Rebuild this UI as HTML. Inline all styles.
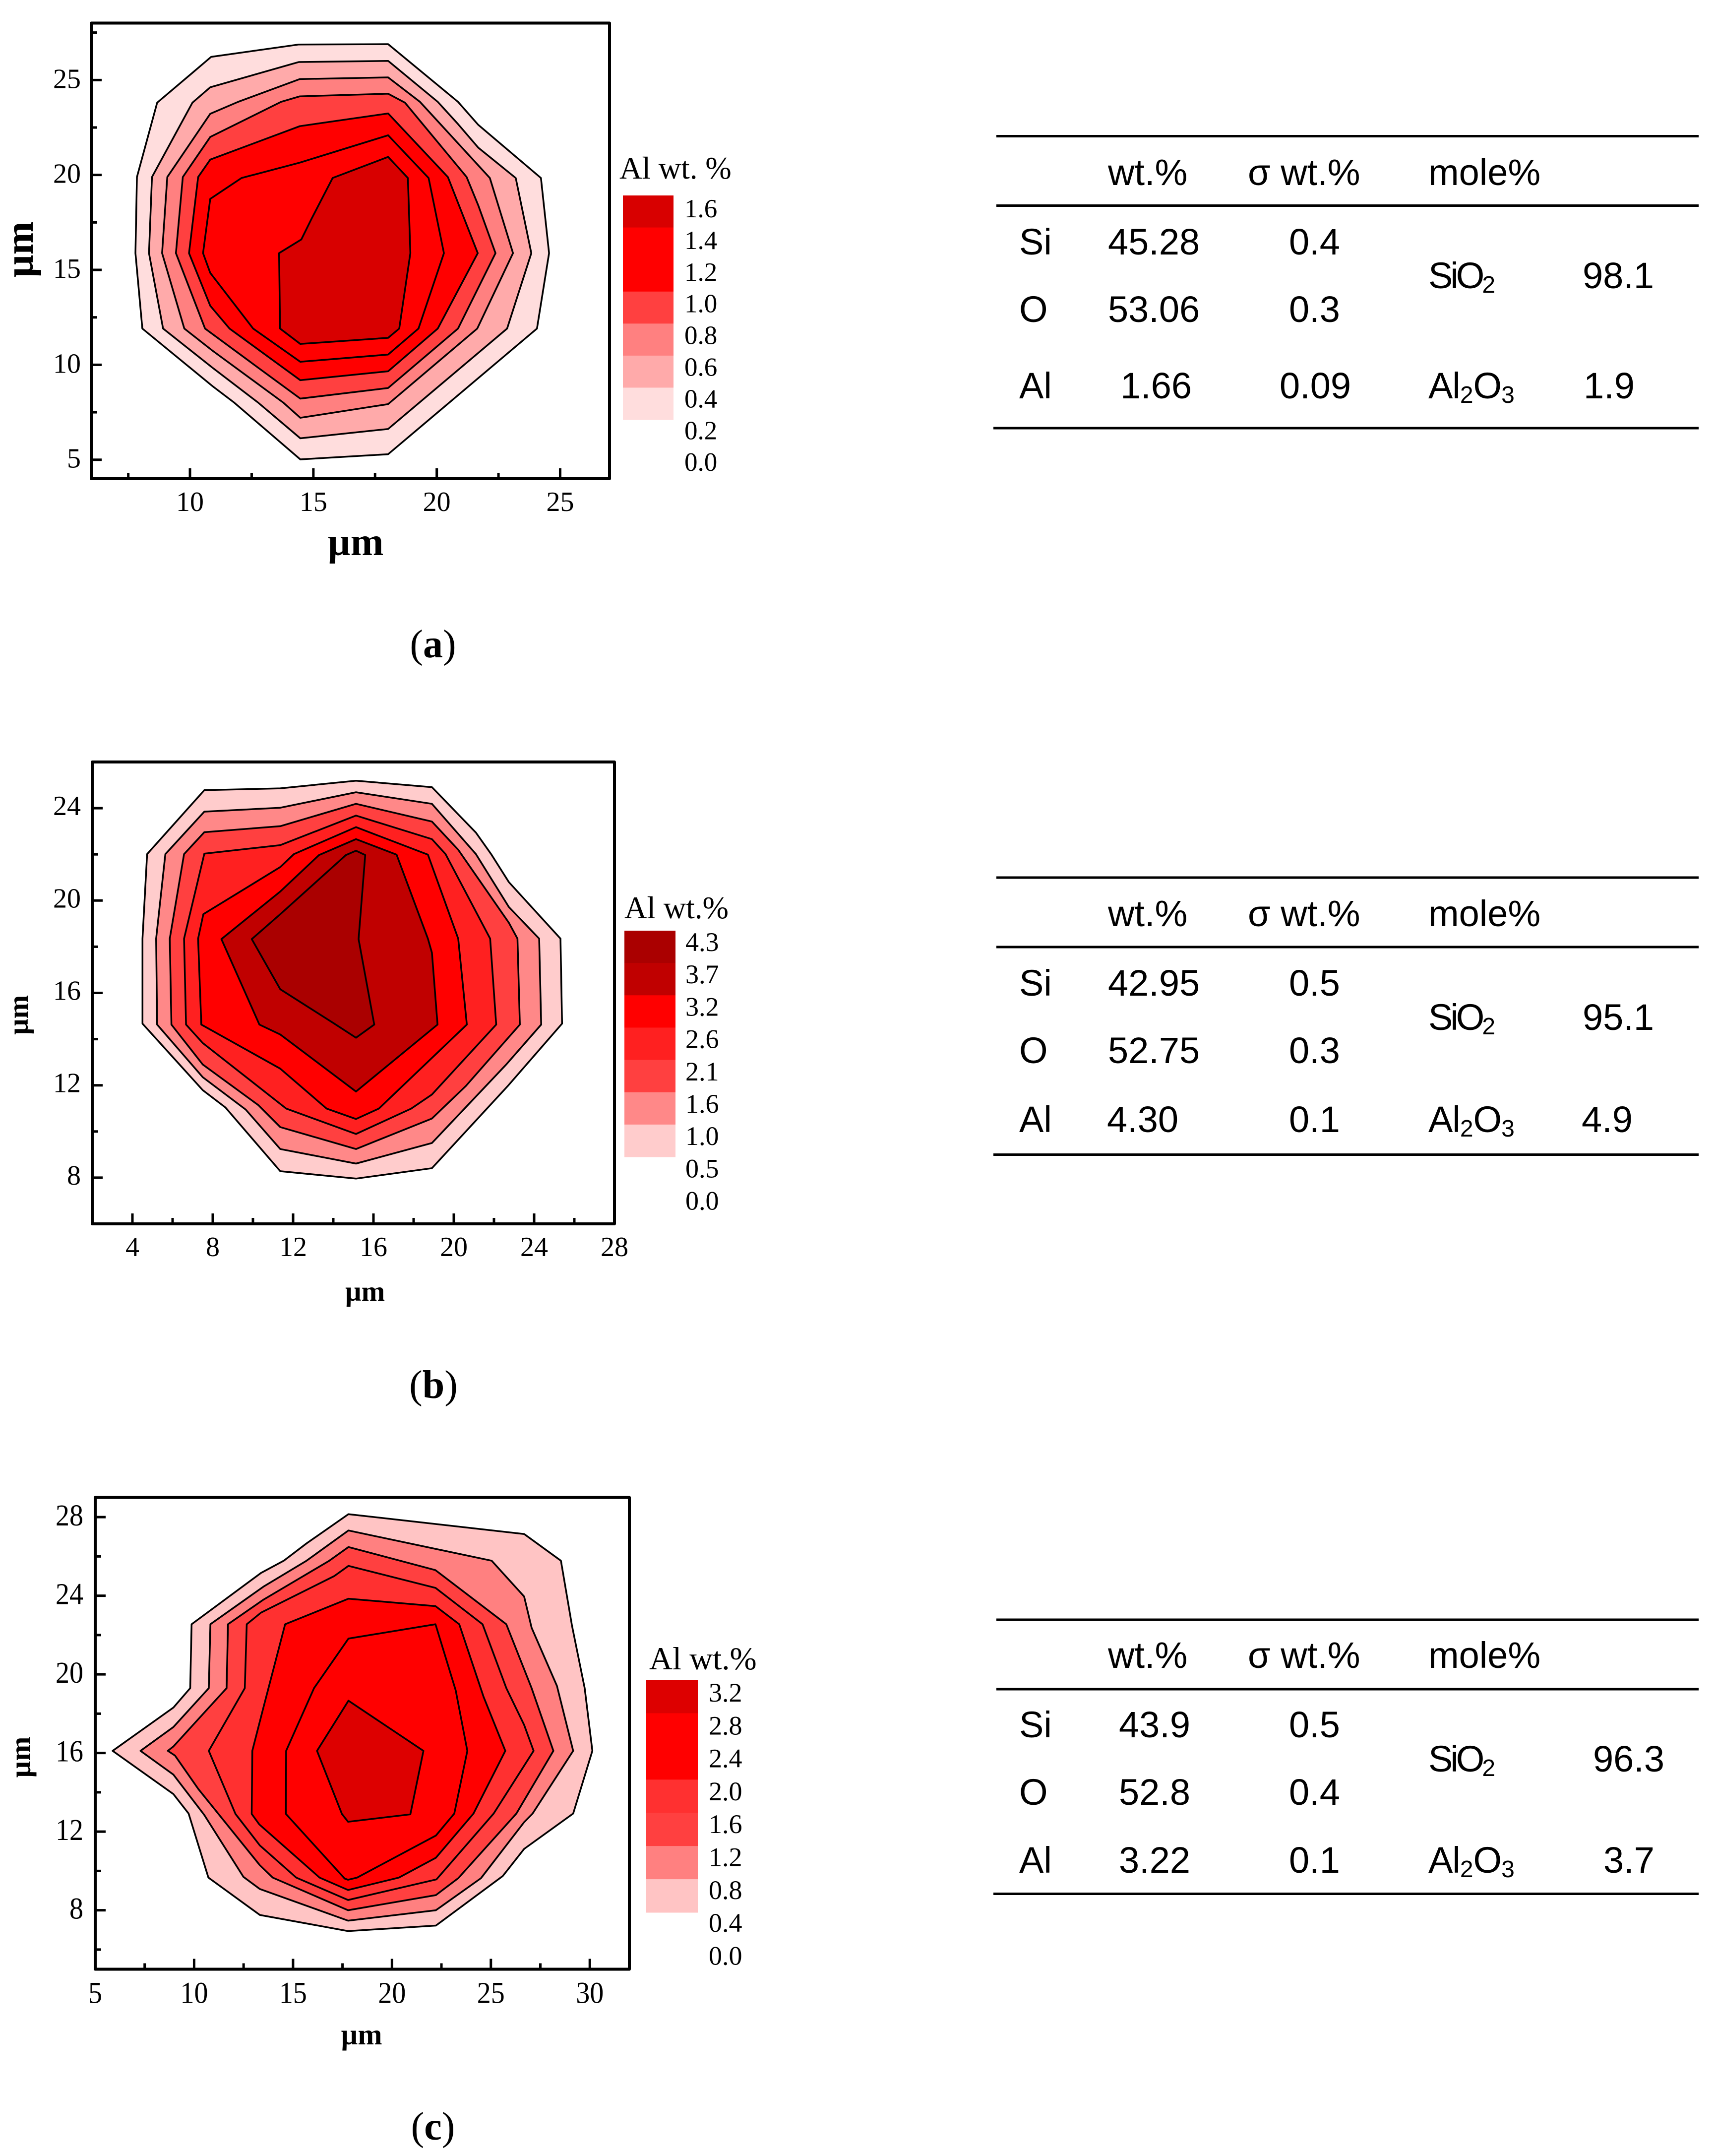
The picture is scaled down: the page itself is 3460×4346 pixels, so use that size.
<!DOCTYPE html>
<html lang="en">
<head>
<meta charset="utf-8">
<title>Al wt.% contour maps and composition tables</title>
<style>
html,body{margin:0;padding:0;background:#fff;}
svg{display:block;}
.t{font-family:"Liberation Sans",sans-serif;font-size:74px;fill:#000;transform:translate(-3px,0);}
.tb .t{transform:translate(-3px,-2px);}
.cap{font-family:"Liberation Serif",serif;font-size:80px;fill:#000;text-anchor:middle;}
.cap tspan{font-weight:bold;}
.s{font-size:48px;}
.sio{letter-spacing:-5px;}
.alo{letter-spacing:-1px;}
.r{stroke:#000;stroke-width:5px;}
</style>
</head>
<body>
<svg id="fig" xmlns="http://www.w3.org/2000/svg" width="3460" height="4346" viewBox="0 0 3460 4346">
<rect x="0" y="0" width="3460" height="4346" fill="#fff"/>

<g>
<line class="r" x1="2009" x2="3425" y1="274.5" y2="274.5"/>
<line class="r" x1="2009" x2="3425" y1="414.5" y2="414.5"/>
<line class="r" x1="2003" x2="3425" y1="863" y2="863"/>
<text class="t" x="2237" y="373">wt.%</text>
<text class="t" x="2519" y="373">σ wt.%</text>
<text class="t" x="2883" y="373">mole%</text>
<text class="t" x="2058" y="513">Si</text>
<text class="t" x="2237" y="513">45.28</text>
<text class="t" x="2602" y="513">0.4</text>
<text class="t" x="2058" y="649">O</text>
<text class="t" x="2237" y="649">53.06</text>
<text class="t" x="2602" y="649">0.3</text>
<text class="t" x="2058" y="803">Al</text>
<text class="t" x="2262" y="803">1.66</text>
<text class="t" x="2583" y="803">0.09</text>
<text class="t" x="2883" y="581"><tspan class="sio">SiO</tspan><tspan class="s" dy="9">2</tspan></text>
<text class="t" x="3194" y="581">98.1</text>
<text class="t" x="2883" y="803"><tspan class="alo">Al</tspan><tspan class="s" dy="9">2</tspan><tspan class="alo" dy="-9">O</tspan><tspan class="s" dy="9">3</tspan></text>
<text class="t" x="3196" y="803">1.9</text>
</g>

<g class="tb">
<line class="r" x1="2009" x2="3425" y1="1769" y2="1769"/>
<line class="r" x1="2009" x2="3425" y1="1909" y2="1909"/>
<line class="r" x1="2003" x2="3425" y1="2327.5" y2="2327.5"/>
<text class="t" x="2237" y="1869">wt.%</text>
<text class="t" x="2519" y="1869">σ wt.%</text>
<text class="t" x="2883" y="1869">mole%</text>
<text class="t" x="2058" y="2009">Si</text>
<text class="t" x="2237" y="2009">42.95</text>
<text class="t" x="2602" y="2009">0.5</text>
<text class="t" x="2058" y="2145">O</text>
<text class="t" x="2237" y="2145">52.75</text>
<text class="t" x="2602" y="2145">0.3</text>
<text class="t" x="2058" y="2284">Al</text>
<text class="t" x="2235" y="2284">4.30</text>
<text class="t" x="2602" y="2284">0.1</text>
<text class="t" x="2883" y="2078"><tspan class="sio">SiO</tspan><tspan class="s" dy="9">2</tspan></text>
<text class="t" x="3194" y="2078">95.1</text>
<text class="t" x="2883" y="2284"><tspan class="alo">Al</tspan><tspan class="s" dy="9">2</tspan><tspan class="alo" dy="-9">O</tspan><tspan class="s" dy="9">3</tspan></text>
<text class="t" x="3192" y="2284">4.9</text>
</g>

<g class="tb">
<line class="r" x1="2009" x2="3425" y1="3265" y2="3265"/>
<line class="r" x1="2009" x2="3425" y1="3405" y2="3405"/>
<line class="r" x1="2003" x2="3425" y1="3817.5" y2="3817.5"/>
<text class="t" x="2237" y="3364">wt.%</text>
<text class="t" x="2519" y="3364">σ wt.%</text>
<text class="t" x="2883" y="3364">mole%</text>
<text class="t" x="2058" y="3504">Si</text>
<text class="t" x="2259" y="3504">43.9</text>
<text class="t" x="2602" y="3504">0.5</text>
<text class="t" x="2058" y="3640">O</text>
<text class="t" x="2259" y="3640">52.8</text>
<text class="t" x="2602" y="3640">0.4</text>
<text class="t" x="2058" y="3777">Al</text>
<text class="t" x="2259" y="3777">3.22</text>
<text class="t" x="2602" y="3777">0.1</text>
<text class="t" x="2883" y="3573"><tspan class="sio">SiO</tspan><tspan class="s" dy="9">2</tspan></text>
<text class="t" x="3215" y="3573">96.3</text>
<text class="t" x="2883" y="3777"><tspan class="alo">Al</tspan><tspan class="s" dy="9">2</tspan><tspan class="alo" dy="-9">O</tspan><tspan class="s" dy="9">3</tspan></text>
<text class="t" x="3236" y="3777">3.7</text>
</g>

<text class="cap" x="873" y="1325">(<tspan>a</tspan>)</text>
<text class="cap" x="874" y="2818">(<tspan>b</tspan>)</text>
<text class="cap" x="873" y="4313">(<tspan>c</tspan>)</text>
</svg>

<script>
// Panel (a): contour outlines in micrometres, outermost to innermost
const aContour1 = [[10.86,26.22],[14.41,26.87],[18.03,26.89],[20.86,23.85],[21.68,22.64],[24.22,19.84],[24.55,15.88],[24.06,11.91],[18.03,5.29],[14.47,5.02],[11.8,8.0],[10.92,8.87],[8.07,11.91],[7.79,15.88],[7.85,19.89],[8.67,23.81],[10.0,25.27]];
const aContour2 = [[10.1,23.81],[10.82,24.62],[14.41,25.95],[18.03,26.01],[20.04,23.85],[20.86,22.68],[21.68,21.44],[23.2,19.84],[23.83,15.88],[22.85,11.91],[18.03,6.62],[14.47,6.13],[12.77,8.0],[10.92,9.84],[8.91,11.91],[8.34,15.88],[8.46,19.89]];
const aContour3 = [[9.08,19.89],[10.82,23.22],[11.95,23.85],[14.45,25.05],[18.03,25.14],[19.32,23.85],[22.15,19.84],[23.09,15.88],[21.64,11.91],[18.03,7.93],[14.47,7.21],[13.79,8.0],[10.92,10.74],[9.77,11.91],[8.87,15.88]];
const aContour4 = [[9.71,19.89],[10.82,22.0],[13.69,23.85],[14.45,24.14],[18.03,24.28],[18.71,23.81],[21.21,19.89],[21.68,18.4],[22.38,15.88],[20.86,11.91],[18.03,8.78],[14.47,8.22],[12.77,9.84],[10.61,11.91],[9.43,15.88]];
const aContour5 = [[10.33,19.89],[10.82,20.81],[14.45,22.57],[18.03,23.24],[20.45,19.89],[21.66,15.88],[20.04,11.91],[18.03,9.66],[14.47,9.19],[11.6,11.91],[10.82,13.11],[9.96,15.88]];
const aContour6 = [[10.82,18.74],[12.09,19.84],[14.45,20.65],[18.03,22.09],[19.67,19.84],[20.29,15.88],[19.26,11.91],[18.03,10.54],[14.47,10.16],[12.56,11.91],[10.82,14.84],[10.53,15.88]];
const aContour7 = [[15.78,19.84],[18.03,20.95],[18.83,19.84],[18.93,15.88],[18.48,11.91],[18.03,11.42],[14.47,11.1],[13.65,11.91],[13.61,15.88],[14.51,16.6],[14.92,17.68]];
const aFillColors = ["#FFDDDD","#FFAAAA","#FF8080","#FF4040","#FF0000","#FF0000","#D80000"];
const aLegendLabels = ["1.6","1.4","1.2","1.0","0.8","0.6","0.4","0.2","0.0"];
const aXTicks = [10,15,20,25];
const aXMinor = [7.5,12.5,17.5,22.5];
const aYTicks = [5,10,15,20,25];
const aYMinor = [7.5,12.5,17.5,22.5,27.5];

// Panel (b)
const bContour1 = [[7.58,24.78],[11.36,24.86],[15.13,25.19],[18.91,24.91],[21.1,22.94],[21.86,22.01],[22.74,20.8],[25.31,18.35],[25.39,14.67],[22.69,11.97],[18.91,8.41],[15.13,7.96],[11.36,8.28],[8.63,11.04],[7.5,11.79],[4.5,14.67],[4.5,18.35],[4.73,22.01]];
const bContour2 = [[7.58,23.85],[11.36,24.02],[15.13,24.69],[18.91,24.19],[21.1,22.01],[22.74,19.72],[24.25,18.35],[24.35,14.63],[22.61,12.9],[18.91,9.5],[15.13,8.61],[11.36,9.24],[9.64,10.95],[7.5,12.35],[5.23,14.63],[5.18,18.35],[5.64,22.01]];
const bContour3 = [[7.58,22.96],[11.36,23.22],[15.13,24.19],[18.91,23.42],[20.22,22.2],[22.74,19.04],[23.17,18.35],[23.29,14.63],[20.6,11.97],[18.91,10.56],[15.13,9.24],[11.36,10.19],[10.27,11.14],[7.5,12.9],[5.94,14.63],[5.86,18.35],[6.57,22.01]];
const bContour4 = [[7.58,22.03],[11.36,22.4],[15.13,23.68],[18.91,22.66],[19.59,22.01],[21.81,18.35],[22.11,14.63],[18.91,11.6],[17.88,10.99],[15.13,9.89],[11.66,10.99],[7.5,13.83],[6.67,14.63],[6.57,18.35]];
const bContour5 = [[7.53,19.41],[11.36,21.45],[12.04,22.01],[15.13,23.18],[18.71,21.99],[20.22,18.35],[20.65,14.63],[16.27,10.99],[15.13,10.54],[13.67,10.99],[11.36,12.72],[7.43,14.63],[7.27,18.35]];
const bContour6 = [[8.43,18.33],[11.36,20.39],[13.29,21.97],[15.13,22.66],[17.15,21.99],[18.71,18.35],[18.91,17.74],[19.19,14.63],[15.13,11.73],[11.36,14.2],[10.32,14.63]];
const bContour7 = [[9.94,18.33],[11.36,19.41],[14.63,21.97],[15.13,22.16],[15.59,21.97],[15.26,18.33],[16.04,14.63],[15.13,14.06],[14.05,14.67],[11.36,16.16]];
const bFillColors = ["#FFCCCC","#FF8888","#FF4040","#FF2020","#FF0000","#C00000","#AA0000"];
const bLegendLabels = ["4.3","3.7","3.2","2.6","2.1","1.6","1.0","0.5","0.0"];
const bXTicks = [4,8,12,16,20,24,28];
const bXMinor = [6,10,14,18,22,26];
const bYTicks = [8,12,16,20,24];
const bYMinor = [10,14,18,22];

// Panel (c)
const cContour1 = [[17.8,28.15],[26.68,27.14],[28.54,25.78],[29.1,22.48],[29.74,19.3],[30.13,16.11],[29.16,12.92],[26.68,11.12],[25.6,9.74],[22.22,7.22],[17.78,6.94],[13.32,7.76],[10.72,9.66],[9.72,12.92],[8.95,13.91],[5.88,16.11],[8.95,18.31],[9.8,19.3],[9.87,22.55],[13.38,25.16],[14.53,25.78],[15.68,26.66]];
const cContour2 = [[17.8,27.32],[25.04,25.78],[26.68,23.96],[27.06,22.37],[28.34,19.41],[29.16,16.11],[27.11,12.92],[26.68,12.48],[24.5,9.63],[22.22,8.0],[17.78,7.47],[13.32,9.08],[12.49,9.7],[10.51,12.85],[8.95,14.9],[7.29,16.11],[8.95,17.32],[10.74,19.3],[10.82,22.55],[13.5,24.46],[15.68,25.78]];
const cContour3 = [[17.8,26.48],[22.2,25.3],[25.78,22.55],[27.06,19.3],[28.16,16.11],[26.29,12.92],[23.35,9.63],[22.22,8.77],[17.78,8.0],[13.97,9.66],[13.32,10.29],[10.21,14.17],[9.03,15.87],[8.67,16.11],[8.95,16.33],[11.64,19.3],[11.71,22.55],[13.5,23.8],[16.83,25.78]];
const cContour4 = [[17.8,25.52],[22.2,24.4],[24.58,22.55],[25.78,19.3],[26.68,17.43],[27.16,16.11],[25.14,12.92],[22.25,9.57],[17.78,8.52],[15.16,9.66],[13.32,11.3],[12.09,12.9],[10.74,16.11],[12.56,19.3],[12.66,22.55],[13.38,23.14],[17.08,25.0]];
const cContour5 = [[17.8,23.85],[22.2,23.47],[23.4,22.55],[24.63,18.86],[25.73,16.11],[24.12,12.92],[22.22,10.67],[20.35,9.66],[17.78,9.03],[16.34,9.66],[13.29,12.37],[12.91,12.9],[12.94,16.11],[13.5,18.31],[14.6,22.55]];
const cContour6 = [[17.8,21.82],[22.2,22.55],[23.22,19.19],[23.81,16.11],[23.15,12.92],[22.22,11.8],[18.24,9.66],[17.78,9.55],[17.61,9.61],[14.64,12.9],[14.65,16.11],[16.06,19.3]];
const cContour7 = [[17.8,18.66],[21.59,16.11],[20.93,12.88],[17.78,12.5],[17.47,12.9],[16.21,16.11]];
const cFillColors = ["#FFC4C4","#FF8080","#FF4040","#FF3030","#FF0000","#FF0000","#DD0000"];
const cLegendLabels = ["3.2","2.8","2.4","2.0","1.6","1.2","0.8","0.4","0.0"];
const cXTicks = [5,10,15,20,25,30];
const cXMinor = [7.5,12.5,17.5,22.5,27.5];
const cYTicks = [8,12,16,20,24,28];
const cYMinor = [6,10,14,18,22,26];

const SVGNS = "http://www.w3.org/2000/svg";
const root = document.getElementById("fig");
const SERIF = '"Liberation Serif",serif';

function make(tag, parent, attrs) {
  const node = document.createElementNS(SVGNS, tag);
  for (const k in attrs) node.setAttribute(k, attrs[k]);
  parent.appendChild(node);
  return node;
}

function drawPanel(id, box, domain, contours, fills, xTicks, xMinor, yTicks, yMinor, legendLabels, opt) {
  const sx = v => box.left + (v - domain.x0) / (domain.x1 - domain.x0) * (box.right - box.left);
  const sy = v => box.bottom - (v - domain.y0) / (domain.y1 - domain.y0) * (box.bottom - box.top);

  const g = make("g", root, {});
  
  

  contours.forEach((pts, i) => {
    const poly = make("polygon", g, {
      points: pts.map(p => sx(p[0]).toFixed(1) + "," + sy(p[1]).toFixed(1)).join(" "),
      fill: fills[i], stroke: "#000", "stroke-width": 3.5, "stroke-linejoin": "round"
    });
    
    
  });

  const frame = make("rect", g, {
    x: box.left, y: box.top, width: box.right - box.left, height: box.bottom - box.top,
    fill: "none", stroke: "#000", "stroke-width": 6, "stroke-linejoin": "round"
  });
  
  

  const tickLine = (x1, y1, x2, y2, name) => {
    const l = make("line", g, { x1, y1, x2, y2, stroke: "#000", "stroke-width": 5 });
    
    
  };
  const label = (txt, x, y, size, anchor, name, scaleY) => {
    const t = make("text", g, {
      transform: "translate(" + x + "," + y + ") scale(1," + (scaleY || 1) + ")",
      "font-family": SERIF, "font-size": size, "text-anchor": anchor, fill: "#000"
    });
    t.textContent = txt;
    
    
  };

  xTicks.forEach(v => {
    if (v > domain.x0 && v < domain.x1) tickLine(sx(v), box.bottom, sx(v), box.bottom - 21, 'x-tick-' + id + '-' + v);
    label(String(v), sx(v), box.bottom + opt.xLabelGap, opt.tickSize, "middle", 'x-tick-label-' + id + '-' + v, opt.tickScale);
  });
  xMinor.forEach(v => tickLine(sx(v), box.bottom, sx(v), box.bottom - 12, 'x-minor-tick-' + id + '-' + v));
  yTicks.forEach(v => {
    tickLine(box.left, sy(v), box.left + 21, sy(v), 'y-tick-' + id + '-' + v);
    label(String(v), opt.yLabelRight, sy(v) + opt.yLabelDrop, opt.tickSize, "end", 'y-tick-label-' + id + '-' + v, opt.tickScale);
  });
  yMinor.forEach(v => tickLine(box.left, sy(v), box.left + 12, sy(v), 'y-minor-tick-' + id + '-' + v));

  // axis titles
  const xt = make("text", g, {
    x: opt.xTitle[0], y: opt.xTitle[1], "font-family": SERIF, "font-weight": "bold",
    "font-size": opt.titleSize, "text-anchor": "middle", fill: "#000"
  });
  xt.textContent = "µm";
  
  
  const yt = make("text", g, {
    transform: "translate(" + opt.yTitle[0] + "," + opt.yTitle[1] + ") rotate(-90)",
    "font-family": SERIF, "font-weight": "bold",
    "font-size": opt.titleSize, "text-anchor": "middle", fill: "#000"
  });
  yt.textContent = "µm";
  
  

  // legend: colour ramp drawn top-down from the inner contour
  const lg = opt.legend;
  const lGroup = make("g", g, {});
  
  
  const bandH = (lg.bottom - lg.top) / fills.length;
  fills.slice().reverse().forEach((c, i) => {
    const r = make("rect", lGroup, {
      x: lg.left, y: lg.top + i * bandH, width: lg.right - lg.left, height: bandH + 0.5, fill: c
    });
    
    
  });
  legendLabels.forEach((txt, i) => {
    const t = make("text", lGroup, {
      x: lg.labelX, y: lg.labelY0 + i * lg.labelStep, "font-family": SERIF, "font-size": lg.labelSize, fill: "#000"
    });
    t.textContent = txt;
    
    
  });
  const title = make("text", lGroup, {
    x: lg.titleX, y: lg.titleY, "font-family": SERIF, "font-size": lg.titleSize, fill: "#000"
  });
  title.textContent = lg.title;
  
  
}

drawPanel("a", {left:184,right:1229,top:46.5,bottom:965}, {x0:6,x1:27,y0:4,y1:28},
  [aContour1,aContour2,aContour3,aContour4,aContour5,aContour6,aContour7], aFillColors,
  aXTicks, aXMinor, aYTicks, aYMinor, aLegendLabels,
  {tickSize:56, tickScale:1, xLabelGap:65, yLabelRight:163, yLabelDrop:16, titleSize:80,
   xTitle:[717,1119], yTitle:[66,503],
   legend:{left:1256,right:1358,top:394,bottom:846,labelX:1380,labelY0:438,labelStep:63.9,labelSize:53,
           title:"Al wt. %",titleX:1249,titleY:360,titleSize:63}});

drawPanel("b", {left:186,right:1239,top:1536,bottom:2467}, {x0:2,x1:28,y0:6,y1:26},
  [bContour1,bContour2,bContour3,bContour4,bContour5,bContour6,bContour7], bFillColors,
  bXTicks, bXMinor, bYTicks, bYMinor, bLegendLabels,
  {tickSize:56, tickScale:1, xLabelGap:65, yLabelRight:163, yLabelDrop:14, titleSize:57,
   xTitle:[736,2622], yTitle:[56,2046],
   legend:{left:1259,right:1362,top:1876,bottom:2332,labelX:1382,labelY0:1917,labelStep:65.2,labelSize:54,
           title:"Al wt.%",titleX:1259,titleY:1851,titleSize:63}});

drawPanel("c", {left:192,right:1269,top:3018.5,bottom:3969.5}, {x0:5,x1:32,y0:5,y1:29},
  [cContour1,cContour2,cContour3,cContour4,cContour5,cContour6,cContour7], cFillColors,
  cXTicks, cXMinor, cYTicks, cYMinor, cLegendLabels,
  {tickSize:56, tickScale:1.1, xLabelGap:68, yLabelRight:168, yLabelDrop:17, titleSize:59,
   xTitle:[729,4121], yTitle:[61,3542],
   legend:{left:1303,right:1407,top:3386.5,bottom:3855,labelX:1429,labelY0:3430,labelStep:66.3,labelSize:54,
           title:"Al wt.%",titleX:1309,titleY:3365,titleSize:65}});
</script>
</body>
</html>
